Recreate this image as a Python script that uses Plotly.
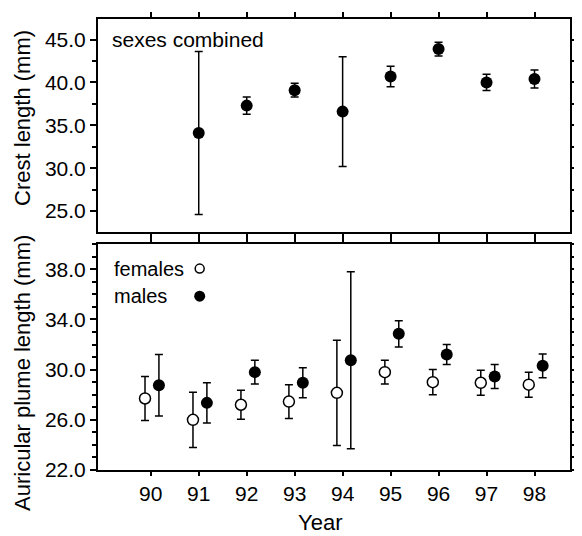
import plotly.graph_objects as go

# years on the x axis
years = [90, 91, 92, 93, 94, 95, 96, 97, 98]
year_labels = ["90", "91", "92", "93", "94", "95", "96", "97", "98"]

# top panel: crest length, sexes combined (no value for 90)
crest_years = [91, 92, 93, 94, 95, 96, 97, 98]
crest_mean = [34.1, 37.3, 39.1, 36.6, 40.7, 43.9, 40.0, 40.4]
crest_err = [9.5, 1.0, 0.8, 6.4, 1.2, 0.8, 0.95, 1.05]

# bottom panel: auricular plume length
fem_mean = [27.7, 26.0, 27.2, 27.45, 28.15, 29.8, 29.0, 28.95, 28.8]
fem_err = [1.75, 2.2, 1.15, 1.35, 4.2, 0.95, 1.0, 1.0, 1.0]
male_mean = [28.75, 27.35, 29.8, 28.95, 30.75, 32.85, 31.2, 29.45, 30.3]
male_err = [2.45, 1.6, 0.95, 1.2, 7.05, 1.05, 0.8, 0.95, 0.95]

# hand-made key (text left of symbol)
key_labels = ["females", "males"]
key_x = [91.02, 91.02]
key_y = [38.05, 35.85]

FONT = "Liberation Sans, Arial, Helvetica, sans-serif"
fem_x = [y - 0.12 for y in years]
male_x = [y + 0.17 for y in years]

err_style = dict(type="data", thickness=1.5, width=4, color="black")

fig = go.Figure()

fig.add_trace(go.Scatter(
    x=crest_years, y=crest_mean, mode="markers",
    error_y=dict(array=crest_err, **err_style),
    marker=dict(size=12, color="black"),
    xaxis="x", yaxis="y", showlegend=False))

fig.add_trace(go.Scatter(
    x=fem_x, y=fem_mean, mode="markers",
    error_y=dict(array=fem_err, **err_style),
    marker=dict(size=11, color="white", line=dict(color="black", width=1.5)),
    xaxis="x2", yaxis="y2", showlegend=False))

fig.add_trace(go.Scatter(
    x=male_x, y=male_mean, mode="markers",
    error_y=dict(array=male_err, **err_style),
    marker=dict(size=12, color="black"),
    xaxis="x2", yaxis="y2", showlegend=False))

# key symbols
fig.add_trace(go.Scatter(
    x=key_x[:1], y=key_y[:1], mode="markers",
    marker=dict(size=9, color="white", line=dict(color="black", width=1.5)),
    xaxis="x2", yaxis="y2", showlegend=False))
fig.add_trace(go.Scatter(
    x=key_x[1:], y=key_y[1:], mode="markers",
    marker=dict(size=11, color="black"),
    xaxis="x2", yaxis="y2", showlegend=False))

axis_common = dict(showline=True, linewidth=2, linecolor="black", mirror="ticks",
                   ticks="outside", tickcolor="black", tickwidth=1.5,
                   showgrid=False, zeroline=False,
                   tickfont=dict(family=FONT, size=21, color="black"))

# page body has an 8px margin, so the figure is 8px smaller than the window
fig.update_layout(
    width=574, height=528,
    margin=dict(l=90, r=9, t=4, b=66),
    paper_bgcolor="white", plot_bgcolor="white",
    font=dict(family=FONT, color="black"),
    xaxis=dict(domain=[0, 1], anchor="y", range=[88.9, 98.74],
               tickmode="array", tickvals=years, showticklabels=False,
               ticklen=5, **axis_common),
    yaxis=dict(domain=[0.5284, 1], anchor="x", range=[22.6, 47.4],
               tickmode="linear", tick0=0, dtick=5, tickformat=".1f",
               ticklen=6, minor=dict(ticks="outside", ticklen=4, dtick=2.5,
                                     tick0=0, tickcolor="black", tickwidth=1.5),
               **axis_common),
    xaxis2=dict(domain=[0, 1], anchor="y2", range=[88.9, 98.74],
                tickmode="array", tickvals=years, ticktext=year_labels,
                ticklen=4, **axis_common),
    yaxis2=dict(domain=[0, 0.5022], anchor="x2", range=[22, 40.05],
                tickmode="linear", tick0=22, dtick=4, tickformat=".1f",
                ticklen=6, minor=dict(ticks="outside", ticklen=4, dtick=1,
                                      tick0=22, tickcolor="black", tickwidth=1.5),
                **axis_common),
)

annots = [
    dict(text="Crest length (mm)", xref="paper", yref="paper", x=-0.16, y=0.7817,
         textangle=-90, font=dict(size=22)),
    dict(text="Auricular plume length (mm)", xref="paper", yref="paper", x=-0.16,
         y=0.2162, textangle=-90, font=dict(size=22)),
    dict(text="Year", xref="paper", yref="paper", x=0.4705, y=-0.1157,
         font=dict(size=22)),
    dict(text="sexes combined", xref="x domain", yref="y domain", x=0.0253, y=0.903,
         xanchor="left", font=dict(size=21)),
    dict(text=key_labels[0], xref="x2 domain", yref="y2", x=0.03, y=key_y[0],
         xanchor="left", font=dict(size=20)),
    dict(text=key_labels[1], xref="x2 domain", yref="y2", x=0.03, y=key_y[1],
         xanchor="left", font=dict(size=20)),
]
for a in annots:
    a.setdefault("showarrow", False)
    a.setdefault("xanchor", "center")
    a.setdefault("yanchor", "middle")
    fig.add_annotation(**a)

fig.write_html("out.html")
